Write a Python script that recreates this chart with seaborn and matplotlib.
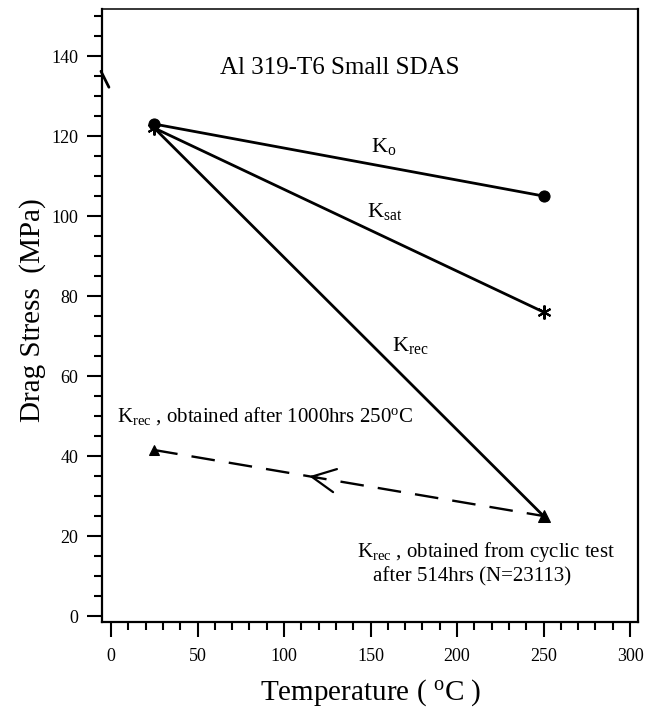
import matplotlib
matplotlib.use("Agg")
import matplotlib.pyplot as plt
import seaborn as sns
import pandas as pd

# data
temps = [25, 250]
k_o = [123, 105]
k_sat = [122, 76]
k_rec = [122, 25]
# K_rec after long exposure (dashed), from 250 back to 25
aged_temps = [250, 25]
aged_k_rec = [25, 41.5]

sns.set_style("ticks")
plt.rcParams["font.family"] = ["Liberation Serif", "DejaVu Serif"]
plt.rcParams["mathtext.fontset"] = "custom"
plt.rcParams["mathtext.rm"] = "Liberation Serif"
plt.rcParams["mathtext.it"] = "Liberation Serif:italic"
plt.rcParams["text.color"] = "black"
plt.rcParams["axes.labelcolor"] = "black"
plt.rcParams["xtick.color"] = "black"
plt.rcParams["ytick.color"] = "black"

fig = plt.figure(figsize=(6.46, 7.07), dpi=100)
ax = fig.add_axes([0.1579, 0.1202, 0.8297, 0.8670])

df = pd.DataFrame({"T": temps, "Ko": k_o, "Ksat": k_sat, "Krec": k_rec})
df_aged = pd.DataFrame({"T": aged_temps, "K": aged_k_rec})

sns.lineplot(data=df, x="T", y="Ko", color="black", lw=2, marker="o",
             markersize=8, markeredgecolor="black", ax=ax)
sns.lineplot(data=df, x="T", y="Ksat", color="black", lw=2, marker=(6, 2, 0),
             markersize=10, markeredgewidth=1.5, markeredgecolor="black", ax=ax)
sns.lineplot(data=df, x="T", y="Krec", color="black", lw=2, marker="^",
             markersize=8, markeredgecolor="black", markevery=[1], ax=ax)
sns.lineplot(data=df_aged, x="T", y="K", color="black", lw=1.7,
             linestyle=(0, (10, 6)), marker="^", markersize=7,
             markeredgecolor="black", markevery=[0], ax=ax)

# open arrow head on the dashed line
ax.annotate("", xy=(113, 35.05), xytext=(121, 34.47),
            arrowprops=dict(arrowstyle="->, head_length=0.85, head_width=0.42",
                            color="black", lw=1.6, mutation_scale=20))

# stray mark on the left spine
ax.plot([-5.8, -1.2], [136.2, 132.2], color="black", lw=2, clip_on=False)

ax.text(132, 135.5, "Al 319-T6 Small SDAS", ha="center", va="baseline", fontsize=18)
ax.text(150, 116, r"K$_{\mathrm{o}}$", va="baseline", fontsize=16)
ax.text(148, 99.75, r"K$_{\mathrm{sat}}$", va="baseline", fontsize=16)
ax.text(162.4, 66.25, r"K$_{\mathrm{rec}}$", va="baseline", fontsize=16)
ax.text(3.5, 48.5, r"K$_{\mathrm{rec}}$ , obtained after 1000hrs 250$^{\mathrm{o}}$C",
        va="baseline", fontsize=15)
ax.text(142, 14.75, r"K$_{\mathrm{rec}}$ , obtained from cyclic test",
        va="baseline", fontsize=15)
ax.text(151.5, 8.75, "after 514hrs (N=23113)", va="baseline", fontsize=15)

ax.set_xlim(-5.2, 304.6)
ax.set_ylim(-1.5, 151.75)
ax.set_xticks(range(0, 301, 50))
ax.set_xticks(range(0, 301, 10), minor=True)
ax.set_yticks(range(0, 141, 20))
ax.set_yticks(range(0, 151, 5), minor=True)
ax.tick_params(which="major", direction="out", length=11, width=1.5,
               labelsize=13, color="black", labelcolor="black")
ax.tick_params(which="minor", direction="out", length=6, width=1.5, color="black")
ax.tick_params(axis="x", which="major", pad=8)
ax.tick_params(axis="y", which="major", pad=6)

for side in ["left", "bottom", "right"]:
    ax.spines[side].set_linewidth(1.6)
    ax.spines[side].set_color("black")
ax.spines["top"].set_linewidth(1.1)
ax.spines["top"].set_color("black")

ax.set_xlabel(r"Temperature ( $^{\mathrm{o}}$C )", fontsize=21)
ax.set_ylabel("Drag Stress  (MPa)", fontsize=21)
ax.xaxis.set_label_coords(0.502, -0.0897)
ax.yaxis.set_label_coords(-0.104, 0.509)

fig.savefig("out.png", dpi=100)
